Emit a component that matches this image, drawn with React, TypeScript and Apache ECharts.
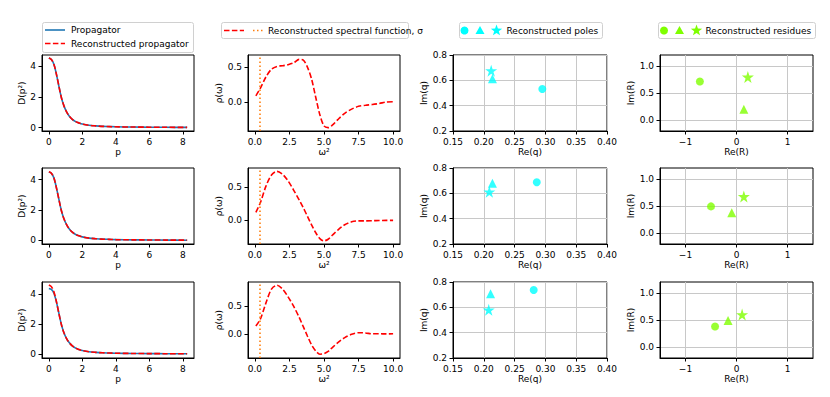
import React, { useEffect, useRef } from "react";
import * as echarts from "echarts";

const FONT = "DejaVu Sans";
const BLUE = "#1f77b4";
const RED = "#ff0000";
const ORANGE = "#ff7f0e";
const CYAN = "#00ffff";
const GREEN = "#7fff00";

// Column 1: propagator D(p^2)
const P = [0, 0.15, 0.3, 0.45, 0.6, 0.75, 0.9, 1.05, 1.2, 1.4, 1.6, 1.8, 2.0, 2.4, 2.8, 3.2, 3.6, 4.0, 5.0, 6.0, 7.0, 8.26];
const D_TRUE_1 = [4.55, 4.45, 4.15, 3.5, 2.7, 1.95, 1.42, 1.05, 0.78, 0.54, 0.39, 0.3, 0.23, 0.15, 0.11, 0.08, 0.065, 0.05, 0.035, 0.025, 0.018, 0.012];
const D_REC_1 = [4.55, 4.46, 4.14, 3.5, 2.71, 1.95, 1.42, 1.05, 0.78, 0.54, 0.39, 0.3, 0.23, 0.15, 0.11, 0.08, 0.064, 0.05, 0.035, 0.025, 0.018, 0.012];
const D_TRUE_2 = [4.5, 4.42, 4.12, 3.48, 2.7, 1.95, 1.42, 1.05, 0.78, 0.54, 0.39, 0.3, 0.23, 0.15, 0.11, 0.08, 0.065, 0.05, 0.035, 0.025, 0.018, 0.012];
const D_REC_2 = [4.52, 4.43, 4.12, 3.47, 2.7, 1.95, 1.42, 1.05, 0.78, 0.54, 0.39, 0.3, 0.23, 0.15, 0.11, 0.08, 0.065, 0.05, 0.035, 0.025, 0.018, 0.012];
const D_TRUE_3 = [4.4, 4.33, 4.08, 3.5, 2.72, 1.97, 1.43, 1.05, 0.78, 0.54, 0.39, 0.3, 0.23, 0.15, 0.11, 0.08, 0.065, 0.05, 0.035, 0.025, 0.018, 0.012];
const D_REC_3 = [4.63, 4.52, 4.18, 3.52, 2.72, 1.96, 1.42, 1.05, 0.78, 0.54, 0.39, 0.3, 0.23, 0.15, 0.11, 0.08, 0.065, 0.05, 0.035, 0.025, 0.018, 0.012];

// Column 2: reconstructed spectral function rho(omega)
const W2 = [0.07, 0.4, 0.8, 1.2, 1.6, 2.0, 2.4, 2.8, 3.2, 3.5, 3.8, 4.1, 4.4, 4.7, 5.0, 5.3, 5.6, 6.0, 6.5, 7.0, 7.5, 8.0, 8.5, 9.0, 9.5, 10.0];
const RHO_1 = [0.09, 0.2, 0.36, 0.47, 0.51, 0.52, 0.535, 0.56, 0.61, 0.6, 0.5, 0.33, 0.07, -0.18, -0.34, -0.365, -0.33, -0.25, -0.16, -0.1, -0.06, -0.045, -0.035, -0.02, 0.0, 0.005];
const RHO_2 = [0.12, 0.27, 0.52, 0.69, 0.745, 0.7, 0.6, 0.46, 0.31, 0.19, 0.06, -0.07, -0.19, -0.28, -0.315, -0.29, -0.23, -0.15, -0.07, -0.025, -0.01, -0.01, -0.008, -0.005, -0.003, -0.003];
const RHO_3 = [0.14, 0.27, 0.56, 0.81, 0.88, 0.81, 0.67, 0.5, 0.3, 0.13, -0.04, -0.2, -0.31, -0.37, -0.36, -0.32, -0.25, -0.16, -0.07, -0.01, 0.02, 0.015, 0.0, 0.0, -0.002, 0.0];
const SIGMA = 0.35;

// Column 3: poles (circle, triangle, star)
const POLE_RE_1 = [0.295, 0.214, 0.212];
const POLE_IM_1 = [0.531, 0.612, 0.676];
const POLE_RE_2 = [0.286, 0.214, 0.209];
const POLE_IM_2 = [0.688, 0.68, 0.612];
const POLE_RE_3 = [0.281, 0.211, 0.208];
const POLE_IM_3 = [0.737, 0.707, 0.58];

// Column 4: residues (circle, triangle, star)
const RES_RE_1 = [-0.718, 0.144, 0.223];
const RES_IM_1 = [0.713, 0.2, 0.795];
const RES_RE_2 = [-0.5, -0.093, 0.144];
const RES_IM_2 = [0.493, 0.375, 0.675];
const RES_RE_3 = [-0.42, -0.165, 0.11];
const RES_IM_3 = [0.38, 0.49, 0.6];

// Tick values
const TICKS_P = [0, 2, 4, 6, 8];
const TICKS_D = [0, 2, 4];
const TICKS_W = [0, 2.5, 5, 7.5, 10];
const TICKS_RHO = [0, 0.5];
const TICKS_REQ = [0.15, 0.2, 0.25, 0.3, 0.35, 0.4];
const TICKS_IMQ = [0.2, 0.4, 0.6, 0.8];
const TICKS_RER = [-1, 0, 1];
const TICKS_IMR = [0, 0.5, 1.0];

const STAR_PATH = "path://M50,0 L61.2,34.5 L97.6,34.5 L68.2,55.9 L79.4,90.5 L50,69.1 L20.6,90.5 L31.8,55.9 L2.4,34.5 L38.8,34.5 Z";
const SHAPES = ["circle", "triangle", STAR_PATH];
const SIZES = [8, 9, 12];

const COL_X = [[42, 194], [248, 400], [453, 607], [660, 813]];
const ROW_Y = [[55, 131], [168, 244], [282, 358]];

const D_RANGES = [[-0.225, 4.75], [-0.24, 4.77], [-0.27, 4.83]];
const RHO_RANGES = [[-0.413, 0.673], [-0.363, 0.796], [-0.439, 0.939]];

const txt = { fontFamily: FONT, fontSize: 9, color: "#000" };

function axis(gridIndex: number, min: number, max: number, ticks: number[], fmt: (v: number) => string, name: string, nameGap: number, grid: boolean) {
  return {
    type: "value",
    gridIndex,
    min,
    max,
    name,
    nameLocation: "middle",
    nameGap,
    nameTextStyle: { ...txt },
    axisLine: { show: true, onZero: false, lineStyle: { color: "#000", width: 1 } },
    axisTick: { show: true, length: 3.5, lineStyle: { color: "#000", width: 1 }, customValues: ticks },
    axisLabel: { show: true, customValues: ticks, formatter: fmt, margin: 6, ...txt },
    splitLine: { show: grid, lineStyle: { color: "#c8c8c8", width: 1 } },
  };
}

const fmtInt = (v: number) => String(v);
const fmt1 = (v: number) => v.toFixed(1);
const fmt2 = (v: number) => v.toFixed(2);
const fmtMinus = (v: number) => (v < 0 ? "\u2212" + Math.abs(v) : String(v));

function pairs(xs: number[], ys: number[]) {
  return xs.map((x, i) => [x, ys[i]]);
}

function buildOption() {
  const grids: any[] = [];
  const xAxes: any[] = [];
  const yAxes: any[] = [];
  const series: any[] = [];
  const dTrue = [D_TRUE_1, D_TRUE_2, D_TRUE_3];
  const dRec = [D_REC_1, D_REC_2, D_REC_3];
  const rhos = [RHO_1, RHO_2, RHO_3];
  const poleRe = [POLE_RE_1, POLE_RE_2, POLE_RE_3];
  const poleIm = [POLE_IM_1, POLE_IM_2, POLE_IM_3];
  const resRe = [RES_RE_1, RES_RE_2, RES_RE_3];
  const resIm = [RES_IM_1, RES_IM_2, RES_IM_3];

  for (let r = 0; r < 3; r++) {
    for (let c = 0; c < 4; c++) {
      const gi = r * 4 + c;
      grids.push({
        left: COL_X[c][0],
        top: ROW_Y[r][0],
        width: COL_X[c][1] - COL_X[c][0],
        height: ROW_Y[r][1] - ROW_Y[r][0],
        show: true,
        borderColor: "#000",
        borderWidth: 1,
        backgroundColor: "transparent",
        containLabel: false,
      });
      if (c === 0) {
        xAxes.push(axis(gi, -0.41, 8.67, TICKS_P, fmtInt, "p", 16, false));
        yAxes.push(axis(gi, D_RANGES[r][0], D_RANGES[r][1], TICKS_D, fmtInt, "D(p\u00b2)", 16, false));
        series.push({
          type: "line", xAxisIndex: gi, yAxisIndex: gi, data: pairs(P, dTrue[r]), smooth: 0.3,
          symbol: "none", lineStyle: { color: BLUE, width: 1.6 }, silent: true,
        });
        series.push({
          type: "line", xAxisIndex: gi, yAxisIndex: gi, data: pairs(P, dRec[r]), smooth: 0.3,
          symbol: "none", lineStyle: { color: RED, width: 1.6, type: [5.5, 2.4] }, silent: true,
        });
      } else if (c === 1) {
        xAxes.push(axis(gi, -0.5, 10.5, TICKS_W, fmt1, "\u03c9\u00b2", 16, false));
        yAxes.push(axis(gi, RHO_RANGES[r][0], RHO_RANGES[r][1], TICKS_RHO, fmt1, "\u03c1(\u03c9)", 24, false));
        series.push({
          type: "line", xAxisIndex: gi, yAxisIndex: gi, data: pairs(W2, rhos[r]), smooth: 0.3,
          symbol: "none", lineStyle: { color: RED, width: 1.6, type: [5.5, 2.4] }, silent: true,
          markLine: {
            silent: true, symbol: "none", label: { show: false },
            lineStyle: { color: ORANGE, width: 1.6, type: [1.5, 2.5] },
            data: [{ xAxis: SIGMA }],
          },
        });
      } else if (c === 2) {
        xAxes.push(axis(gi, 0.15, 0.4, TICKS_REQ, fmt2, "Re(q)", 16, true));
        yAxes.push(axis(gi, 0.2, 0.8, TICKS_IMQ, fmt1, "Im(q)", 23, true));
        series.push({
          type: "scatter", xAxisIndex: gi, yAxisIndex: gi, silent: true,
          itemStyle: { color: CYAN },
          data: poleRe[r].map((x, i) => ({ value: [x, poleIm[r][i]], symbol: SHAPES[i], symbolSize: SIZES[i] })),
        });
      } else {
        xAxes.push(axis(gi, -1.5, 1.5, TICKS_RER, fmtMinus, "Re(R)", 16, true));
        yAxes.push(axis(gi, -0.2, 1.2, TICKS_IMR, fmt1, "Im(R)", 23, true));
        series.push({
          type: "scatter", xAxisIndex: gi, yAxisIndex: gi, silent: true,
          itemStyle: { color: GREEN },
          data: resRe[r].map((x, i) => ({ value: [x, resIm[r][i]], symbol: SHAPES[i], symbolSize: SIZES[i] })),
        });
      }
    }
  }

  const tri = (cx: number, cy: number, s: number) => [[cx, cy - s], [cx + s, cy + s * 0.8], [cx - s, cy + s * 0.8]];
  const star = (cx: number, cy: number, R: number) => {
    const pts: number[][] = [];
    for (let k = 0; k < 10; k++) {
      const rr = k % 2 === 0 ? R : R * 0.4;
      const a = -Math.PI / 2 + (k * Math.PI) / 5;
      pts.push([cx + rr * Math.cos(a), cy + rr * Math.sin(a)]);
    }
    return pts;
  };
  const boxStyle = { fill: "#fff", stroke: "#d0d0d0", lineWidth: 1 };
  const lt = (x: number, y: number, text: string) => ({
    type: "text", x, y, style: { text, fontFamily: FONT, fontSize: 9, fill: "#000", verticalAlign: "middle", align: "left" },
  });

  const graphic: any[] = [
    // Legend 1
    { type: "rect", shape: { x: 42.5, y: 22.5, width: 151, height: 30, r: 2 }, style: boxStyle },
    { type: "line", shape: { x1: 45, y1: 30, x2: 65, y2: 30 }, style: { stroke: BLUE, lineWidth: 1.6 } },
    { type: "line", shape: { x1: 45, y1: 43.5, x2: 65, y2: 43.5 }, style: { stroke: RED, lineWidth: 1.6, lineDash: [5.5, 2.4] } },
    lt(71, 30, "Propagator"),
    lt(71, 43.5, "Reconstructed propagator"),
    // Legend 2
    { type: "rect", shape: { x: 221.5, y: 22.5, width: 187, height: 16, r: 2 }, style: boxStyle },
    { type: "line", shape: { x1: 224, y1: 30.5, x2: 244, y2: 30.5 }, style: { stroke: RED, lineWidth: 1.6, lineDash: [5.5, 2.4] } },
    { type: "line", shape: { x1: 253, y1: 30.5, x2: 263, y2: 30.5 }, style: { stroke: ORANGE, lineWidth: 1.6, lineDash: [1.5, 2.5] } },
    lt(268, 30.5, "Reconstructed spectral function, \u03c3"),
    // Legend 3
    { type: "rect", shape: { x: 459.5, y: 22.5, width: 143, height: 16, r: 2 }, style: boxStyle },
    { type: "circle", shape: { cx: 464.5, cy: 30.5, r: 4 }, style: { fill: CYAN } },
    { type: "polygon", shape: { points: tri(480, 30.5, 4.5) }, style: { fill: CYAN } },
    { type: "polygon", shape: { points: star(496.5, 30.5, 6) }, style: { fill: CYAN } },
    lt(506.5, 30.5, "Reconstructed poles"),
    // Legend 4
    { type: "rect", shape: { x: 658.5, y: 22.5, width: 157, height: 16, r: 2 }, style: boxStyle },
    { type: "circle", shape: { cx: 664, cy: 30.5, r: 4 }, style: { fill: GREEN } },
    { type: "polygon", shape: { points: tri(679.5, 30.5, 4.5) }, style: { fill: GREEN } },
    { type: "polygon", shape: { points: star(696.5, 30.5, 6) }, style: { fill: GREEN } },
    lt(705.5, 30.5, "Reconstructed residues"),
  ];

  return {
    animation: false,
    backgroundColor: "#fff",
    textStyle: { fontFamily: FONT },
    grid: grids,
    xAxis: xAxes,
    yAxis: yAxes,
    series,
    graphic,
  };
}

export default function App() {
  const ref = useRef<HTMLDivElement>(null);
  useEffect(() => {
    const chart = echarts.init(ref.current!, null, { renderer: "svg" });
    chart.setOption(buildOption() as any);
    return () => chart.dispose();
  }, []);
  return (
    <div
      ref={ref}
      style={{ position: "fixed", left: 0, top: 0, width: 830, height: 397, background: "#fff" }}
    />
  );
}
